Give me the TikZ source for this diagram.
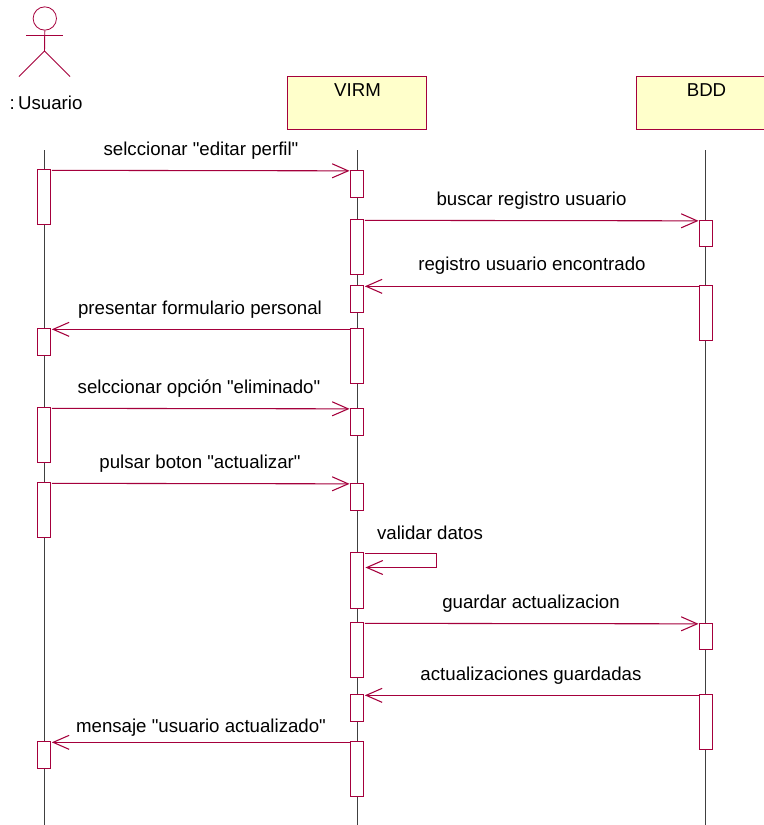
\documentclass[tikz,border=0pt]{standalone}
\usepackage{fontspec}
\setmainfont{Liberation Sans}[Ligatures=TeXOff]
\usetikzlibrary{arrows.meta,calc}
\definecolor{umlline}{HTML}{A5003C}
\definecolor{umlfill}{HTML}{FFFFCB}
\tikzset{
  x=0.75pt,y=-0.75pt,
  objbox/.style={draw=umlline,fill=umlfill,line width=0.75pt,minimum width=104pt,minimum height=40pt,inner sep=0pt,anchor=north west},
  objtext/.style={font=\fontsize{14}{16}\selectfont,inner sep=0pt,anchor=base},
  act/.style={draw=umlline,fill=white,line width=0.7pt,minimum width=9.75pt,inner sep=0pt,anchor=north},
  life/.style={draw=black!75,line width=0.5pt},
  msg/.style={draw=umlline,line width=0.8pt,-{Straight Barb[length=12pt,width=10.5pt,line width=0.8pt]}},
  msgtxt/.style={font=\fontsize{14}{16}\selectfont,inner sep=0pt,anchor=base,text=black},
  stick/.style={draw=umlline,line width=0.7pt}
}
\newcommand{\actbox}[4]{\node[act,minimum height=#4*0.75pt] (#1) at (#2,#3) {};}
\begin{document}
\begin{tikzpicture}
\useasboundingbox (0,0) rectangle (764,825);
\clip (0,0) rectangle (764,825);
\fill[white] (0,0) rectangle (764,825);
% lifelines
\coordinate (l1t) at (44.5,150); \coordinate (l1b) at (44.5,825);
\coordinate (l2t) at (357,150); \coordinate (l2b) at (357,825);
\coordinate (l3t) at (705.5,150); \coordinate (l3b) at (705.5,825);
\draw[life] (l1t) -- (l1b);
\draw[life] (l2t) -- (l2b);
\draw[life] (l3t) -- (l3b);
% actor
\node[circle,draw=umlline,line width=0.6pt,minimum size=17.5pt,inner sep=0pt] (head) at (44.8,18.5) {};
\coordinate (shl) at (26,35.5); \coordinate (shr) at (62.5,35.5);
\coordinate (hip) at (44.5,51); \coordinate (footl) at (19,76.5); \coordinate (footr) at (70,76.5);
\draw[stick] (head.south) -- (hip);
\draw[stick] (shl) -- (shr);
\draw[stick] (footl) -- (hip) -- (footr);
\node[msgtxt] (usr) at (46,109) {:\hspace{2.5pt}Usuario};
% objects
\node[objbox] (virm) at (287,75.5) {};
\node[objtext] (virmt) at (357.5,96) {VIRM};
\node[objbox] (bdd) at (636,75.5) {};
\node[objtext] (bddt) at (706.5,96) {BDD};
% activations: left
\actbox{a1}{43.5}{169}{55}
\actbox{a2}{43.5}{328}{27}
\actbox{a3}{43.5}{407}{55}
\actbox{a4}{43.5}{482}{55}
\actbox{a5}{43.5}{741}{27}
% activations: middle
\actbox{b1}{356.5}{169.5}{27}
\actbox{b2}{356.5}{219}{55}
\actbox{b3}{356.5}{285}{27}
\actbox{b4}{356.5}{328}{55}
\actbox{b5}{356.5}{407.5}{27}
\actbox{b6}{356.5}{482.5}{27}
\actbox{b7}{356.5}{551.5}{56}
\actbox{b8}{356.5}{622}{55}
\actbox{b9}{356.5}{694}{26.5}
\actbox{b10}{356.5}{741}{55}
% activations: right
\actbox{c1}{705.5}{219.5}{26}
\actbox{c2}{705.5}{285}{55}
\actbox{c3}{705.5}{622.5}{26.5}
\actbox{c4}{705.5}{694}{55}
% messages
\draw[msg] ([xshift=1pt,yshift=-1pt]a1.north east) -- ([yshift=-1pt]b1.north west);
\node[msgtxt] (m1) at (201,155) {selccionar "editar perfil"};
\draw[msg] ([xshift=1pt,yshift=-1pt]b2.north east) -- ([yshift=-1pt]c1.north west);
\node[msgtxt] (m2) at (531.5,205) {buscar registro usuario};
\draw[msg] ([yshift=-1pt]c2.north west) -- ([xshift=1pt,yshift=-1pt]b3.north east);
\node[msgtxt] (m3) at (532,270) {registro usuario encontrado};
\draw[msg] ([yshift=-1pt]b4.north west) -- ([xshift=1pt,yshift=-1pt]a2.north east);
\node[msgtxt] (m4) at (200,314) {presentar formulario personal};
\draw[msg] ([xshift=1pt,yshift=-1pt]a3.north east) -- ([yshift=-1pt]b5.north west);
\node[msgtxt] (m5) at (199,393) {selccionar opción "eliminado"};
\draw[msg] ([xshift=1pt,yshift=-1pt]a4.north east) -- ([yshift=-1pt]b6.north west);
\node[msgtxt] (m6) at (200,468) {pulsar boton "actualizar"};
\coordinate (selfa) at ($(b7.north east)+(73,2)$);
\coordinate (selfb) at ($(selfa)+(0,14)$);
\draw[msg] ([xshift=1pt,yshift=-1.5pt]b7.north east) -- (selfa) -- (selfb) -- ($(b7.north east)+(2,16)$);
\node[msgtxt] (m7) at (430,539) {validar datos};
\draw[msg] ([xshift=1pt,yshift=-1pt]b8.north east) -- ([yshift=-1pt]c3.north west);
\node[msgtxt] (m8) at (531,608) {guardar actualizacion};
\draw[msg] ([yshift=-1pt]c4.north west) -- ([xshift=1pt,yshift=-1pt]b9.north east);
\node[msgtxt] (m9) at (531,680) {actualizaciones guardadas};
\draw[msg] ([yshift=-1pt]b10.north west) -- ([xshift=1pt,yshift=-1pt]a5.north east);
\node[msgtxt] (m10) at (201,732) {mensaje "usuario actualizado"};
\end{tikzpicture}
\end{document}
